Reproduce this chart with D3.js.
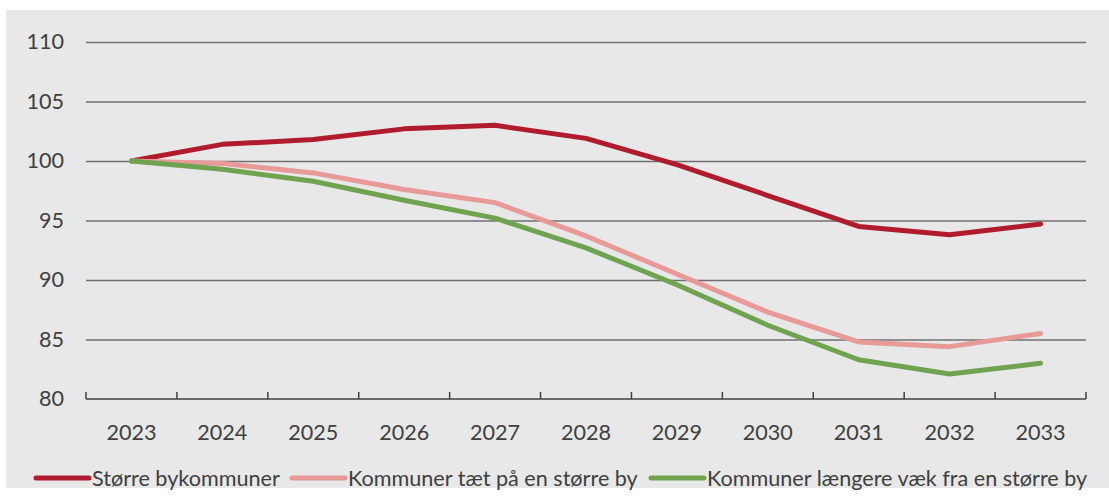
<!DOCTYPE html>
<html>
<head>
<meta charset="utf-8">
<script src="https://cdn.jsdelivr.net/npm/d3@7"></script>
<style>
  body { margin: 0; background: #fff; }
  svg text { font-family: Lato, "Open Sans", sans-serif; fill: #404040; }
</style>
</head>
<body>
<div id="chart"></div>
<script>
const years = ["2023", "2024", "2025", "2026", "2027", "2028", "2029", "2030", "2031", "2032", "2033"];
const yTicks = [80, 85, 90, 95, 100, 105, 110];

const storreBy = [100, 101.4, 101.8, 102.7, 103.0, 101.9, 99.7, 97.1, 94.5, 93.8, 94.7];
const taetPaa = [100, 99.8, 99.0, 97.6, 96.5, 93.7, 90.5, 87.3, 84.8, 84.4, 85.5];
const laengereVaek = [100, 99.3, 98.3, 96.7, 95.2, 92.7, 89.6, 86.2, 83.3, 82.1, 83.0];

const seriesNames = ["Større bykommuner", "Kommuner tæt på en større by", "Kommuner længere væk fra en større by"];
const colors = ["#b01c2e", "#e89a98", "#70a350"];

const series = [storreBy, taetPaa, laengereVaek].map((values, i) => ({
    name: seriesNames[i],
    color: colors[i],
    values
}));

const w = 1109, h = 498;
const plotLeft = 86, plotRight = 1086, plotTop = 42, plotBottom = 399;
const fontSize = 21.6;

const svg = d3.select("#chart").append("svg")
    .attr("width", w)
    .attr("height", h);

svg.append("rect")
    .attr("x", 6).attr("y", 10)
    .attr("width", w - 6).attr("height", 478)
    .attr("fill", "#e7e8e7");

const x = d3.scaleBand().domain(years).range([plotLeft, plotRight]);
const y = d3.scaleLinear().domain([80, 110]).range([plotBottom, plotTop]);

// gridlines + y labels
const yAxis = d3.axisLeft(y)
    .tickValues(yTicks)
    .tickSize(-(plotRight - plotLeft))
    .tickPadding(22);

svg.append("g")
    .attr("transform", `translate(${plotLeft},0)`)
    .call(yAxis)
    .call(g => g.select(".domain").remove())
    .call(g => g.selectAll(".tick line")
        .attr("stroke-width", 1.5)
        .attr("stroke", d => d === 80 ? "none" : "#707070"))
    .call(g => g.selectAll(".tick text")
        .attr("font-size", fontSize)
        .attr("fill", "#404040"));

// x axis with inside ticks at band edges
const xg = svg.append("g").attr("transform", `translate(0,${plotBottom})`);
xg.append("line")
    .attr("x1", plotLeft).attr("x2", plotRight)
    .attr("stroke", "#404040").attr("stroke-width", 1.5);
const edges = years.map(d => x(d)).concat([plotRight]);
xg.selectAll("line.tk")
    .data(edges)
    .enter().append("line")
    .attr("class", "tk")
    .attr("x1", d => d).attr("x2", d => d)
    .attr("y1", 0).attr("y2", -7)
    .attr("stroke", "#404040").attr("stroke-width", 1.5);
xg.selectAll("text")
    .data(years)
    .enter().append("text")
    .attr("x", d => x(d) + x.bandwidth() / 2)
    .attr("y", 33)
    .attr("dy", "0.35em")
    .attr("text-anchor", "middle")
    .attr("font-size", fontSize)
    .text(d => d);

// lines
const line = d3.line()
    .x((d, i) => x(years[i]) + x.bandwidth() / 2)
    .y(d => y(d));

svg.selectAll("path.series")
    .data(series)
    .enter().append("path")
    .attr("class", "series")
    .attr("d", d => line(d.values))
    .attr("fill", "none")
    .attr("stroke", d => d.color)
    .attr("stroke-width", 5)
    .attr("stroke-linejoin", "round")
    .attr("stroke-linecap", "round");

// legend
const legendX = [34, 290, 649];
const legend = svg.selectAll(".legend")
    .data(series)
    .enter().append("g")
    .attr("class", "legend")
    .attr("transform", (d, i) => `translate(${legendX[i]},478)`);
legend.append("line")
    .attr("x1", 2).attr("x2", 55)
    .attr("stroke", d => d.color)
    .attr("stroke-width", 5)
    .attr("stroke-linecap", "round");
legend.append("text")
    .attr("x", 58)
    .attr("dy", "0.35em")
    .attr("font-size", fontSize)
    .text(d => d.name);
</script>
</body>
</html>
